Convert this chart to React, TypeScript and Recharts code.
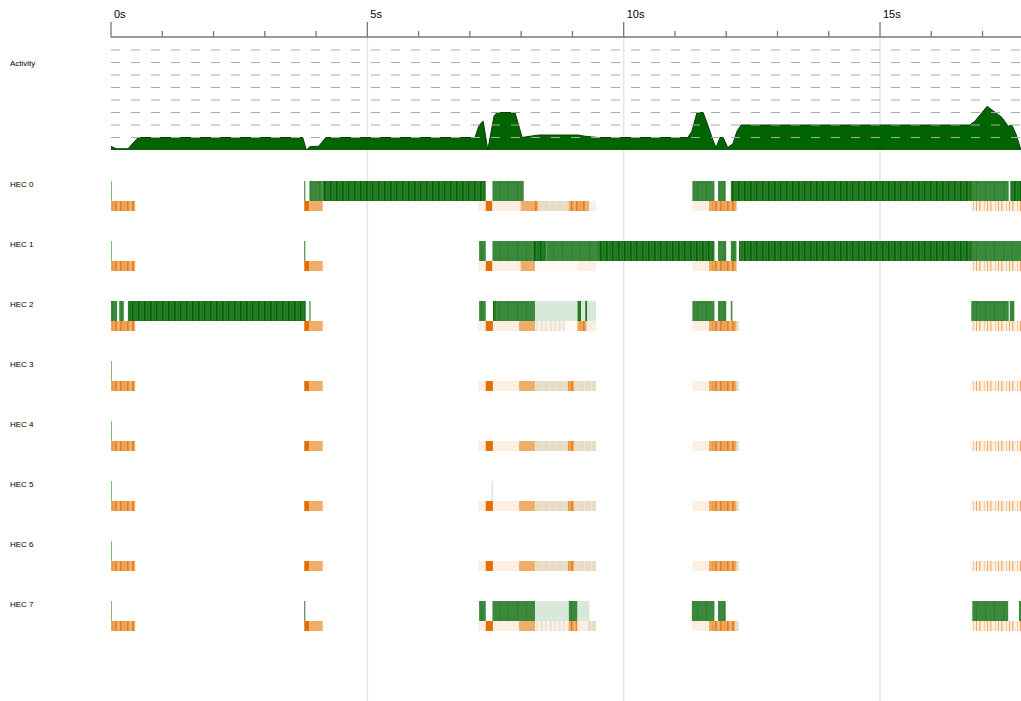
import React from 'react';
import {
    AreaChart, Area, BarChart, Bar, Cell, LineChart, Line, XAxis, YAxis, ReferenceLine,
} from 'recharts';

const TIME_END = 17.75;
const AXIS_Y = 37;

const secondTicks = [0, 1, 2, 3, 4, 5, 6, 7, 8, 9, 10, 11, 12, 13, 14, 15, 16, 17];
const majorTicks = [0, 5, 10, 15];
const tickLabels = ['0s', '5s', '10s', '15s'];
const gridTimes = [5, 10, 15];
const capacityLevels = [1, 2, 3, 4, 5, 6, 7, 8];

// activity profile (number of busy HECs over time)
const activityTime = [
    0, 0.1, 0.33, 0.53, 3.74, 3.81, 3.88, 4.05, 4.19, 7.1, 7.18, 7.26, 7.35, 7.47, 7.53, 7.88,
    8.02, 8.17, 8.35, 9.11, 9.25, 9.5, 11.25, 11.33, 11.43, 11.55, 11.64, 11.74, 11.8, 11.88,
    11.94, 12.03, 12.13, 12.21, 12.29, 16.75, 16.85, 17.09, 17.38, 17.5, 17.57, 17.65, 17.75,
];
const activityLevel = [
    0.3, 0.1, 0.1, 1, 1, 0, 0.27, 0.3, 1, 1, 2, 2.3, 0, 2.7, 3, 3,
    1, 1.1, 1.2, 1.2, 1.1, 1, 1, 1.5, 3, 3, 2, 0.8, 0.2, 1,
    1, 0.2, 0.5, 1.5, 2, 2, 2.3, 3.5, 2.6, 1.9, 2, 1.3, 0,
];

type Seg = [number, number, string];

const hec0Run: Seg[] = [
    [0, 0.02, 'blip'], [3.77, 3.79, 'mark'], [3.87, 4.13, 'run'], [4.13, 7.31, 'busy'],
    [7.44, 8.05, 'run'], [11.34, 11.77, 'run'], [11.84, 11.99, 'run'], [12.09, 16.81, 'busy'],
    [16.81, 17.51, 'run'], [17.54, 17.75, 'busy'],
];
const hec0Gc: Seg[] = [
    [0, 0.47, 'mixed'], [3.77, 3.87, 'major'], [3.87, 4.13, 'minor'], [7.16, 7.31, 'pale'],
    [7.31, 7.44, 'major'], [7.44, 7.99, 'pale'], [7.99, 8.27, 'minor'], [8.27, 8.33, 'mixed'],
    [8.33, 8.93, 'sync'], [8.93, 9.32, 'mixed'], [9.32, 9.46, 'pale'], [11.34, 11.67, 'pale'],
    [11.67, 12.2, 'mixed'], [16.78, 17.75, 'tail'],
];
const hec1Run: Seg[] = [
    [0, 0.02, 'blip'], [3.77, 3.79, 'mark'], [7.18, 7.31, 'run'], [7.44, 8.23, 'run'],
    [8.23, 8.49, 'busy'], [8.49, 9.5, 'run'], [9.5, 11.77, 'busy'], [11.84, 12.0, 'run'],
    [12.09, 12.2, 'run'], [12.25, 16.81, 'busy'], [16.81, 17.75, 'run'],
];
const hec1Gc: Seg[] = [
    [0, 0.47, 'mixed'], [3.77, 3.87, 'major'], [3.87, 4.13, 'minor'], [7.16, 7.31, 'pale'],
    [7.31, 7.44, 'major'], [7.44, 7.99, 'pale'], [7.99, 8.27, 'minor'], [8.27, 9.1, 'faint'],
    [9.1, 9.46, 'pale'], [11.34, 11.67, 'pale'], [11.67, 12.2, 'mixed'], [16.78, 17.75, 'tail'],
];
const hec2Run: Seg[] = [
    [0, 0.12, 'run'], [0.16, 0.25, 'run'], [0.33, 3.8, 'busy'], [3.86, 3.9, 'blip'],
    [7.18, 7.31, 'run'], [7.45, 7.51, 'busy'], [7.51, 8.27, 'run'], [8.27, 9.1, 'idle'],
    [9.1, 9.17, 'busy'], [9.17, 9.25, 'idle'], [9.25, 9.29, 'busy'], [9.29, 9.46, 'idle'],
    [11.34, 11.77, 'run'], [11.84, 12.0, 'run'], [12.09, 12.12, 'run'], [16.78, 17.51, 'run'],
    [17.53, 17.62, 'run'],
];
const hec2Gc: Seg[] = [
    [0, 0.47, 'mixed'], [3.77, 3.87, 'major'], [3.87, 4.13, 'minor'], [7.16, 7.31, 'pale'],
    [7.31, 7.45, 'major'], [7.45, 7.96, 'pale'], [7.96, 8.27, 'minor'], [8.27, 8.86, 'sparse'],
    [8.86, 9.1, 'faint'], [9.1, 9.28, 'mixed'], [9.28, 9.46, 'pale'], [11.34, 11.67, 'pale'],
    [11.67, 12.2, 'mixed'], [12.2, 12.25, 'sync'], [16.78, 17.75, 'tail'],
];
const idleRun: Seg[] = [[0, 0.02, 'blip']];
const hec5Run: Seg[] = [[0, 0.02, 'blip'], [7.42, 7.45, 'idle']];
const idleGc: Seg[] = [
    [0, 0.47, 'mixed'], [3.77, 3.87, 'major'], [3.87, 4.13, 'minor'], [7.16, 7.31, 'pale'],
    [7.31, 7.45, 'major'], [7.45, 7.96, 'pale'], [7.96, 8.27, 'minor'], [8.27, 8.91, 'sync'],
    [8.91, 9.04, 'mixed'], [9.04, 9.46, 'sync'], [11.34, 11.67, 'pale'], [11.67, 12.2, 'mixed'],
    [12.2, 12.25, 'sync'], [16.78, 17.75, 'tail'],
];
const hec7Run: Seg[] = [
    [0, 0.02, 'blip'], [3.77, 3.79, 'mark'], [7.18, 7.31, 'run'], [7.44, 8.27, 'run'],
    [8.27, 8.93, 'idle'], [8.93, 9.1, 'run'], [9.1, 9.33, 'idle'], [11.33, 11.77, 'run'],
    [11.84, 11.99, 'run'], [16.8, 17.5, 'run'], [17.71, 17.75, 'run'],
];
const hec7Gc: Seg[] = [
    [0, 0.47, 'mixed'], [3.77, 3.87, 'major'], [3.87, 4.13, 'minor'], [7.16, 7.31, 'pale'],
    [7.31, 7.45, 'major'], [7.45, 7.96, 'pale'], [7.96, 8.27, 'minor'], [8.27, 8.93, 'sparse'],
    [8.93, 9.1, 'mixed'], [9.1, 9.3, 'pale'], [9.3, 9.46, 'sync'], [11.33, 11.67, 'pale'],
    [11.67, 12.18, 'mixed'], [12.18, 12.25, 'sync'], [16.8, 17.75, 'tail'],
];

const hecRuns = [hec0Run, hec1Run, hec2Run, idleRun, idleRun, hec5Run, idleRun, hec7Run];
const hecGcs = [hec0Gc, hec1Gc, hec2Gc, idleGc, idleGc, idleGc, idleGc, hec7Gc];

const stateFill: Record<string, string> = {
    busy: 'url(#pDense)',
    run: 'url(#pMed)',
    idle: '#d8e9d9',
    blip: '#7dbd7d',
    mark: '#2a7a2a',
    major: '#e26f00',
    minor: '#f0ad6a',
    mixed: 'url(#pOrange)',
    pale: '#fcefe2',
    sync: 'url(#pBeige)',
    sparse: 'url(#pSparse)',
    faint: '#fffaf4',
    tail: 'url(#pTail)',
};

// turn segments into stacked pieces (gap, segment, gap, segment ...)
const bandRows = hecRuns.flatMap((run, i) => [
    { band: `${i}-run`, kind: 'run', segs: run },
    { band: `${i}-gc`, kind: 'gc', segs: hecGcs[i] },
    { band: `${i}-sp`, kind: 'sp', segs: [] as Seg[] },
]).map((row) => {
    const pieces: { v: number; s: string | null }[] = [];
    let cursor = 0;
    row.segs.forEach(([a, b, s]) => {
        pieces.push({ v: Math.max(0, a - cursor), s: null });
        pieces.push({ v: Math.max(0, b - a), s });
        cursor = b;
    });
    return { ...row, pieces };
});
const pieceCount = Math.max(...bandRows.map((r) => r.pieces.length));
const barData = bandRows.map((r) => {
    const entry: any = { band: r.band, kind: r.kind };
    for (let k = 0; k < pieceCount; k++) entry[`p${k}`] = r.pieces[k] ? r.pieces[k].v : 0;
    return entry;
});
const activityData = activityTime.map((t, i) => ({ t, level: activityLevel[i] }));
const gridData = gridTimes.map((t) => ({ t, y: 0 }));

const font = '"Liberation Sans", Arial, sans-serif';

const TimeTick = (props: any) => {
    const { x, payload } = props;
    const idx = majorTicks.indexOf(payload.value);
    const major = idx >= 0;
    return (
        <g>
            <line x1={x} x2={x} y1={AXIS_Y - (major ? 15 : 6)} y2={AXIS_Y} stroke="#777" strokeWidth={1.3} />
            {major && (
                <text x={x + 3} y={18} fontSize={11} fill="#000" stroke="none" fontFamily={font}>
                    {tickLabels[idx]}
                </text>
            )}
        </g>
    );
};

const ActivityTick = (props: any) => (
    <text x={10} y={props.y} fontSize={8} fill="#000" stroke="none" fontFamily={font}>Activity</text>
);

const HecTick = (props: any) => {
    const { y, payload } = props;
    const [idx, kind] = String(payload.value).split('-');
    if (kind !== 'run') return <g />;
    return (
        <text x={10} y={y - 4.2} fontSize={8} fill="#000" stroke="none" fontFamily={font}>{`HEC ${idx}`}</text>
    );
};

const SegShape = (props: any) => {
    const { x, y, width, height, fill, payload } = props;
    if (!width || width <= 0 || !fill || fill === 'none') return <g />;
    const h = payload && payload.kind === 'gc' ? height / 2 : height;
    return <rect x={x} y={y} width={width} height={h} fill={fill} />;
};

const App: React.FC = () => {
    return (
        <div style={{ position: 'absolute', left: 0, top: 0, width: 1021, height: 701, background: '#fff', fontFamily: font }}>
            <div style={{ position: 'absolute', left: 0, top: 0 }}>
                <LineChart width={1021} height={701} data={gridData} margin={{ top: AXIS_Y, right: 0, bottom: 0, left: 111 }}>
                    <XAxis dataKey="t" type="number" domain={[0, TIME_END]} hide />
                    <YAxis hide domain={[0, 1]} />
                    <Line dataKey="y" stroke="none" dot={false} activeDot={false} isAnimationActive={false} />
                    {gridTimes.map((t) => (
                        <ReferenceLine key={t} x={t} stroke="#e6e6e6" strokeWidth={1.6} />
                    ))}
                </LineChart>
            </div>
            <div style={{ position: 'absolute', left: 0, top: 0 }}>
                <AreaChart width={1021} height={150} data={activityData} margin={{ top: 0, right: 0, bottom: 0, left: 0 }}>
                    <XAxis
                        dataKey="t" type="number" domain={[0, TIME_END]} orientation="top" height={AXIS_Y}
                        ticks={secondTicks} interval={0} tick={TimeTick} tickLine={false} tickSize={0}
                        axisLine={{ stroke: '#777', strokeWidth: 1.3 }} allowDataOverflow
                    />
                    <YAxis
                        type="number" domain={[0, 9.04]} width={111} ticks={[6.7]} tick={ActivityTick}
                        tickLine={false} axisLine={false} allowDataOverflow
                    />
                    {capacityLevels.map((v) => (
                        <ReferenceLine key={v} y={v} stroke="#aaa" strokeDasharray="9 11" />
                    ))}
                    <Area
                        type="linear" dataKey="level" fill="#006400" fillOpacity={1}
                        stroke="#0b3d0b" strokeWidth={1} isAnimationActive={false} dot={false} activeDot={false}
                    />
                </AreaChart>
            </div>
            <div style={{ position: 'absolute', left: 0, top: 150 }}>
                <BarChart
                    width={1021} height={551} data={barData} layout="vertical"
                    margin={{ top: 31, right: 0, bottom: 40, left: 0 }} barCategoryGap={0} barGap={0}
                >
                    <defs>
                        <pattern id="pDense" width="6" height="20" patternUnits="userSpaceOnUse">
                            <rect width="6" height="20" fill="#2f7f2f" />
                            <rect x="0" width="1.6" height="20" fill="#006400" />
                            <rect x="3.6" width="1" height="20" fill="#0d6d0d" />
                        </pattern>
                        <pattern id="pMed" width="9" height="20" patternUnits="userSpaceOnUse">
                            <rect width="9" height="20" fill="#3b8a3b" />
                            <rect x="4" width="1" height="20" fill="#2d7f2d" />
                        </pattern>
                        <pattern id="pOrange" width="12" height="20" patternUnits="userSpaceOnUse">
                            <rect width="12" height="20" fill="#f0a860" />
                            <rect x="0" width="2" height="20" fill="#e8852a" />
                            <rect x="4" width="1" height="20" fill="#eb9444" />
                            <rect x="7" width="1.5" height="20" fill="#e27c1c" />
                            <rect x="10" width="1" height="20" fill="#f3b67c" />
                        </pattern>
                        <pattern id="pBeige" width="7" height="20" patternUnits="userSpaceOnUse">
                            <rect width="7" height="20" fill="#e6dcc3" />
                            <rect x="3" width="1" height="20" fill="#efe7d6" />
                        </pattern>
                        <pattern id="pSparse" width="9" height="20" patternUnits="userSpaceOnUse">
                            <rect width="9" height="20" fill="#f7f1e6" />
                            <rect x="1" width="1.5" height="20" fill="#e8dec6" />
                            <rect x="5" width="2" height="20" fill="#eee6d4" />
                        </pattern>
                        <pattern id="pTail" width="11" height="20" patternUnits="userSpaceOnUse">
                            <rect width="11" height="20" fill="#fdeede" />
                            <rect x="0" width="1.5" height="20" fill="#f3b880" />
                            <rect x="5" width="1" height="20" fill="#f6c9a0" />
                            <rect x="8" width="1" height="20" fill="#efa868" />
                        </pattern>
                    </defs>
                    <XAxis type="number" domain={[0, TIME_END]} hide allowDataOverflow />
                    <YAxis
                        type="category" dataKey="band" width={111} interval={0} tick={HecTick}
                        tickLine={false} axisLine={false}
                    />
                    {Array.from({ length: pieceCount }, (_, k) => (
                        <Bar key={k} dataKey={`p${k}`} stackId="s" isAnimationActive={false} shape={SegShape}>
                            {bandRows.map((r, j) => {
                                const p = r.pieces[k];
                                return <Cell key={j} fill={p && p.s ? stateFill[p.s] : 'none'} />;
                            })}
                        </Bar>
                    ))}
                </BarChart>
            </div>
        </div>
    );
};

export default App;
